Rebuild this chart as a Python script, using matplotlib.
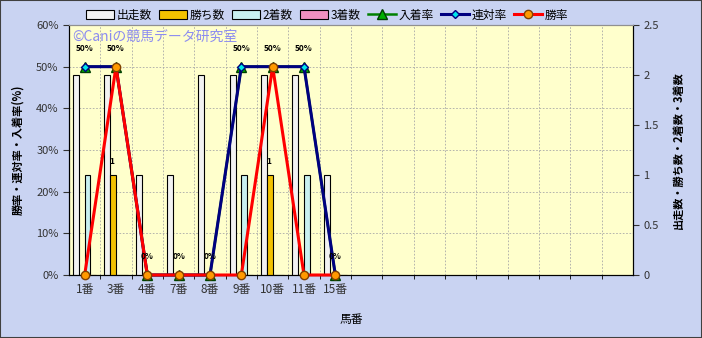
import matplotlib.pyplot as plt
import numpy as np
from matplotlib.patches import Rectangle
from matplotlib.ticker import FuncFormatter

plt.rcParams['font.family'] = ['Noto Sans CJK JP', 'DejaVu Sans']

# data
horses = ['1番', '3番', '4番', '7番', '8番', '9番', '10番', '11番', '15番']
starts = [2, 2, 1, 1, 2, 2, 2, 2, 1]
wins = [0, 1, 0, 0, 0, 0, 1, 0, 0]
seconds = [1, 0, 0, 0, 0, 1, 0, 1, 0]
thirds = [0, 0, 0, 0, 0, 0, 0, 0, 0]
win_rate = [0, 50, 0, 0, 0, 0, 50, 0, 0]
rentai_rate = [50, 50, 0, 0, 0, 50, 50, 50, 0]
place_rate = [50, 50, 0, 0, 0, 50, 50, 50, 0]

n_slots = 18  # chart has room for 18 horses

fig = plt.figure(figsize=(7.02, 3.38), dpi=100, facecolor='#C9D3F2')
ax = fig.add_axes([69 / 702, 63 / 338, 564 / 702, 250 / 338])
ax2 = ax.twinx()
ax.set_zorder(ax2.get_zorder() + 1)
ax.patch.set_visible(False)
ax2.patch.set_visible(True)
ax2.patch.set_facecolor('#FFFFCC')

x = np.arange(len(horses))
w = 0.185

# count bars (right axis)
b1 = ax2.bar(x - 1.5 * w, starts, w, color='#F2F2F2', edgecolor='black', lw=0.8, label='出走数', zorder=3)
b2 = ax2.bar(x - 0.5 * w, wins, w, color='#F2C200', edgecolor='black', lw=0.8, label='勝ち数', zorder=3)
b3 = ax2.bar(x + 0.5 * w, seconds, w, color='#C8F0F0', edgecolor='black', lw=0.8, label='2着数', zorder=3)
b4 = ax2.bar(x + 1.5 * w, thirds, w, color='#F090C0', edgecolor='black', lw=0.8, label='3着数', zorder=3)

for xi, v in zip(x, wins):
    if v > 0:
        ax2.annotate(str(v), (xi - 0.5 * w, v), xytext=(-1, 10), textcoords='offset points',
                     ha='center', va='center', fontsize=6, fontweight='bold', zorder=4)

ax2.set_ylim(0, 2.5)
ax2.set_yticks(np.arange(0, 2.51, 0.5))
ax2.yaxis.set_major_formatter(FuncFormatter(lambda v, p: '%g' % v))
ax2.set_yticks(np.linspace(0, 2.5, 7)[1:-1], minor=True)
ax2.xaxis.set_visible(True)
ax2.set_xticks(np.arange(0.5, n_slots - 1, 1), minor=True)
ax2.grid(which='minor', color='#A8A8A8', ls=(0, (2, 2)), lw=0.6)
ax2.tick_params(which='minor', length=0)
ax2.tick_params(axis='x', which='both', labelbottom=False, length=0)
ax2.tick_params(axis='y', labelsize=8, colors='#333333', length=4)
ax2.set_ylabel('出走数・勝ち数・2着数・3着数', fontsize=8, fontweight='bold')
ax2.yaxis.set_label_coords(1.069, 0.5)

# rate lines (left axis)
l1, = ax.plot(x, place_rate, color='#008000', lw=1.8, marker='^', ms=7,
              mfc='#00B000', mec='#004000', label='入着率', clip_on=False, zorder=5)
l2, = ax.plot(x, rentai_rate, color='#000080', lw=2.2, marker='D', ms=4.5,
              mfc='#00E8E8', mec='#000080', label='連対率', clip_on=False, zorder=6)
l3, = ax.plot(x, win_rate, color='#FF0000', lw=2.2, marker='o', ms=6,
              mfc='#FF9900', mec='#804000', label='勝率', clip_on=False, zorder=7)

for xi, v in zip(x, place_rate):
    ax.annotate('%d%%' % v, (xi, v), xytext=(0, 13), textcoords='offset points',
                ha='center', va='center', fontsize=6, fontweight='bold', zorder=8)

ax.set_ylim(0, 60)
ax.set_yticks(np.arange(0, 61, 10))
ax.yaxis.set_major_formatter(FuncFormatter(lambda v, p: '%d%%' % v))
ax.set_xlim(-0.5, n_slots - 0.5)
ax.set_xticks(x)
ax.set_xticklabels(horses)
ax.tick_params(axis='x', which='major', length=0, pad=6, labelsize=8.5, colors='#333333')
ax.tick_params(axis='x', which='minor', length=3)
ax.tick_params(axis='y', labelsize=8, colors='#333333', length=4)
ax.set_ylabel('勝率・連対率・入着率(%)', fontsize=8, fontweight='bold')
ax.yaxis.set_label_coords(-0.080, 0.5)
ax.set_xlabel('馬番', fontsize=8.5)
ax.xaxis.set_label_coords(0.5, -0.15)

for a in (ax, ax2):
    for s in ('left', 'bottom', 'right'):
        a.spines[s].set_color('black')
    a.spines['top'].set_color('#909090')

ax.text(0.005, 0.952, '©Caniの競馬データ研究室', transform=ax.transAxes, fontsize=10,
        color='#8C8CF0', va='center', ha='left')

handles = [b1, b2, b3, b4, l1, l2, l3]
fig.legend(handles, [h.get_label() for h in handles], loc='center',
           bbox_to_anchor=(327 / 702, 1 - 15 / 338), ncol=7, frameon=False, fontsize=8.5,
           handlelength=2.4, handletextpad=0.2, columnspacing=0.6)

fig.patches.append(Rectangle((0, 0), 1, 1, transform=fig.transFigure, fill=False,
                             edgecolor='#404040', lw=1.5))

fig.savefig('out.png', dpi=100, facecolor=fig.get_facecolor())
